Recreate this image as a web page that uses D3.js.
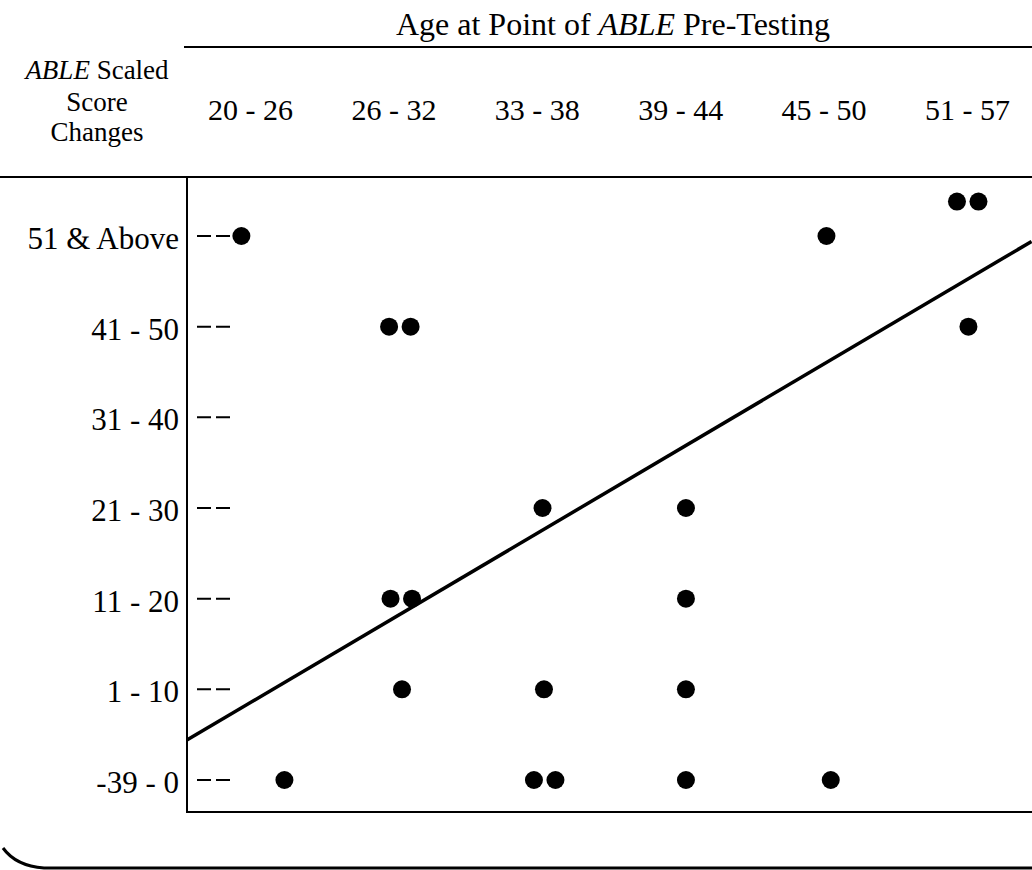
<!DOCTYPE html>
<html>
<head>
<meta charset="utf-8">
<script src="https://cdn.jsdelivr.net/npm/d3@7"></script>
<style>
  body { margin: 0; background: #fff; }
  svg { display: block; }
  text { font-family: "Liberation Serif", "Times New Roman", serif; fill: #000; }
</style>
</head>
<body>
<script>
// Categories
const ageGroups = ["20 - 26", "26 - 32", "33 - 38", "39 - 44", "45 - 50", "51 - 57"];
const scoreGroups = ["-39 - 0", "1 - 10", "11 - 20", "21 - 30", "31 - 40", "41 - 50", "51 & Above"];

// Points, in category units (x = age column, y = score row)
const pointX = [-0.06, 0.24, 0.97, 1.12, 0.98, 1.13, 1.06, 2.04, 2.05, 1.98, 2.13, 3.04, 3.04, 3.04, 3.04, 4.02, 4.05, 4.93, 5.08, 5.01];
const pointY = [6, 0, 5, 5, 2, 2, 1, 3, 1, 0, 0, 3, 2, 1, 0, 6, 0, 6.38, 6.38, 5];

// Fitted trend line end points
const trendX = [-0.44, 5.45];
const trendY = [0.44, 5.94];

const width = 1032;
const height = 870;

const svg = d3.select("body")
  .append("svg")
  .attr("width", width)
  .attr("height", height);

const plotLeft = 187, plotRight = 1032, plotTop = 177, plotBottom = 812;

const x = d3.scaleLinear().domain([0, 5]).range([250, 967]);
const y = d3.scaleLinear().domain([0, 6]).range([780, 236]);

// header
svg.append("text")
  .attr("x", 613).attr("y", 35)
  .attr("text-anchor", "middle")
  .attr("font-size", 32)
  .html('Age at Point of <tspan font-style="italic">ABLE</tspan> Pre-Testing');

svg.append("line")
  .attr("x1", 184).attr("x2", width)
  .attr("y1", 47).attr("y2", 47)
  .attr("stroke", "#000").attr("stroke-width", 2);

const corner = svg.append("text")
  .attr("text-anchor", "middle")
  .attr("font-size", 27);
corner.append("tspan").attr("x", 97).attr("y", 79).attr("font-style", "italic").text("ABLE");
corner.append("tspan").text(" Scaled");
corner.append("tspan").attr("x", 97).attr("y", 111).text("Score");
corner.append("tspan").attr("x", 97).attr("y", 141).text("Changes");

// column labels
const xAxis = svg.append("g")
  .attr("transform", "translate(0,120)")
  .call(d3.axisTop(x).tickValues(d3.range(ageGroups.length)).tickFormat(i => ageGroups[i]).tickSize(0).tickPadding(0));
xAxis.select(".domain").remove();
xAxis.selectAll("text").attr("font-size", 30).attr("font-family", null);

svg.append("line")
  .attr("x1", 0).attr("x2", width)
  .attr("y1", plotTop).attr("y2", plotTop)
  .attr("stroke", "#000").attr("stroke-width", 2);

// row labels
const yAxis = svg.append("g")
  .attr("transform", `translate(${plotLeft},0)`)
  .call(d3.axisLeft(y).tickValues(d3.range(scoreGroups.length)).tickFormat(i => scoreGroups[i]).tickSize(0).tickPadding(8));
yAxis.select(".domain").remove();
yAxis.selectAll("text").attr("font-size", 31).attr("font-family", null).attr("dy", "0.4em");

// dashes after the axis
svg.append("g")
  .selectAll("line")
  .data(d3.range(scoreGroups.length))
  .join("line")
  .attr("x1", plotLeft + 10).attr("x2", plotLeft + 43)
  .attr("y1", d => y(d)).attr("y2", d => y(d))
  .attr("stroke", "#000").attr("stroke-width", 2)
  .attr("stroke-dasharray", "14,5");

// axis frame
svg.append("path")
  .attr("d", `M${plotLeft},${plotTop}V${plotBottom}H${plotRight}`)
  .attr("fill", "none").attr("stroke", "#000").attr("stroke-width", 2);

// trend line
svg.append("line")
  .attr("x1", x(trendX[0])).attr("y1", y(trendY[0]))
  .attr("x2", x(trendX[1])).attr("y2", y(trendY[1]))
  .attr("stroke", "#000").attr("stroke-width", 3.5);

// points
svg.append("g")
  .selectAll("circle")
  .data(pointX)
  .join("circle")
  .attr("cx", d => x(d))
  .attr("cy", (d, i) => y(pointY[i]))
  .attr("r", 9)
  .attr("fill", "#000");

// curved bottom border
svg.append("path")
  .attr("d", `M3,848 Q16,866 44,868 H${width}`)
  .attr("fill", "none").attr("stroke", "#000").attr("stroke-width", 3);
</script>
</body>
</html>
